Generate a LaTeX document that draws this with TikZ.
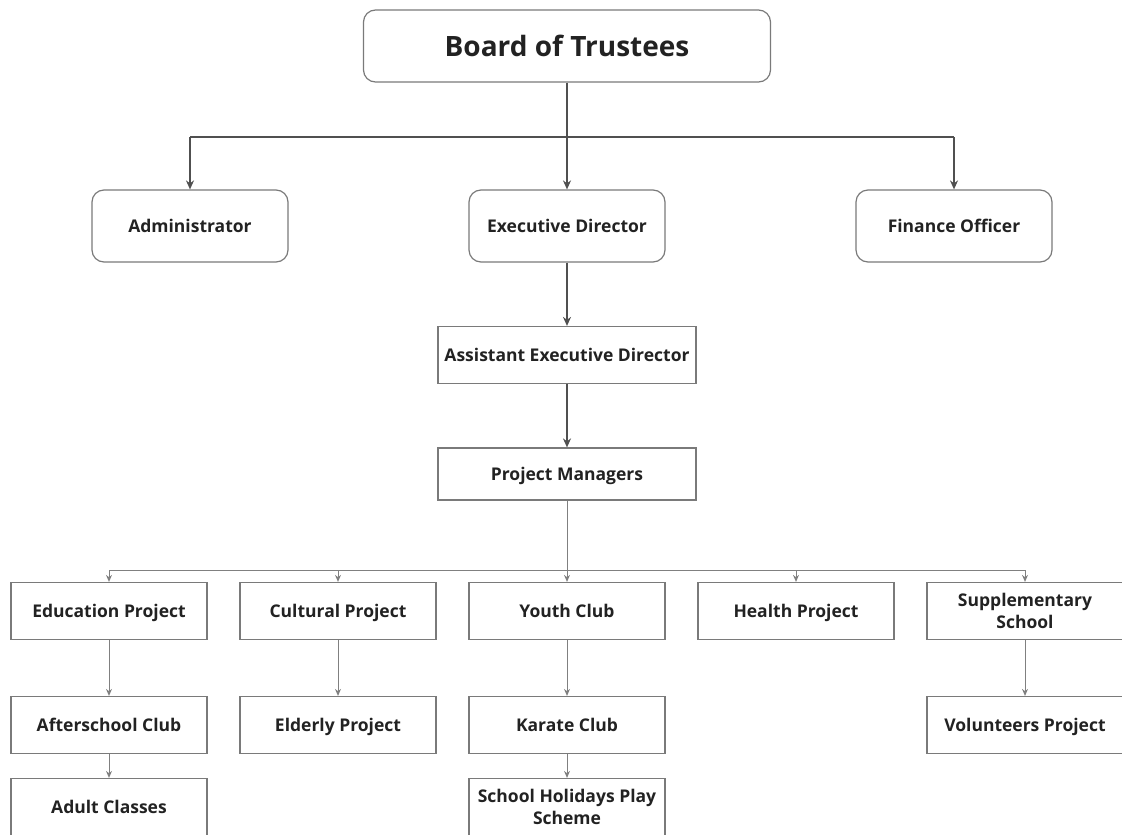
\documentclass[tikz,border=0pt]{standalone}
\usepackage{fontspec}
\setmainfont{Open Sans}
\usepackage{tikz}
\usetikzlibrary{arrows.meta,calc,positioning}

\definecolor{boxgray}{HTML}{7A7A7A}
\definecolor{linedark}{HTML}{505050}
\definecolor{linelight}{HTML}{808080}
\definecolor{textdark}{HTML}{222222}

\tikzset{
  roundbox/.style={draw=boxgray,line width=1.2pt,rounded corners=12pt,minimum width=196pt,minimum height=72pt,font=\bfseries\fontsize{17.5}{21}\selectfont,text=textdark,align=center,text height=12.6pt,text depth=0pt},
  unitbox/.style={draw=boxgray,line width=1.2pt,minimum width=196pt,minimum height=57pt,font=\bfseries\fontsize{17.5}{22}\selectfont,text=textdark,align=center,inner sep=1pt,text height=12.6pt,text depth=0pt},
  twoline/.style={text height={},text depth={}},
  mainline/.style={draw=linedark,line width=1.8pt},
  mainarrow/.style={mainline,-{Stealth[length=9pt,width=8pt]}},
  subline/.style={draw=linelight,line width=1pt},
  subarrow/.style={subline,-{Stealth[length=7pt,width=6pt]}}
}

\begin{document}
\begin{tikzpicture}[x=1pt,y=-1pt]
  \useasboundingbox (0,0) rectangle (1122,835);
  % top of the tree
  \node[roundbox,minimum width=407pt,font=\bfseries\fontsize{28}{32}\selectfont,text height=20pt] (board) at (567,46) {Board of Trustees};
  \node[roundbox] (admin) at (190,226) {Administrator};
  \node[roundbox] (exec) at (567,226) {Executive Director};
  \node[roundbox] (fin) at (954,226) {Finance Officer};
  \coordinate (topbus) at (567,137);
  % middle
  \node[unitbox,minimum width=258pt] (assist) at (567,355) {Assistant Executive Director};
  \node[unitbox,minimum width=258pt,minimum height=52pt] (pm) at (567,474) {Project Managers};
  \coordinate (lowbus) at (567,570);
  % projects
  \node[unitbox] (edu) at (109,611) {Education Project};
  \node[unitbox] (cult) at (338,611) {Cultural Project};
  \node[unitbox] (youth) at (567,611) {Youth Club};
  \node[unitbox] (health) at (796,611) {Health Project};
  \node[unitbox,twoline] (supp) at (1025,611) {Supplementary\\School};
  \node[unitbox] (after) at (109,725) {Afterschool Club};
  \node[unitbox] (elder) at (338,725) {Elderly Project};
  \node[unitbox] (karate) at (567,725) {Karate Club};
  \node[unitbox] (volun) at (1025,725) {Volunteers Project};
  \node[unitbox] (adult) at (109,807) {Adult Classes};
  \node[unitbox,twoline] (holiday) at (567,807) {School Holidays Play\\Scheme};

  % connectors
  \draw[mainline] (topbus -| admin.north) -- (topbus -| fin.north);
  \draw[mainarrow] (board.south) -- (exec.north);
  \draw[mainarrow] (topbus -| admin.north) -- (admin.north);
  \draw[mainarrow] (topbus -| fin.north) -- (fin.north);
  \draw[mainarrow] (exec.south) -- (assist.north);
  \draw[mainarrow] (assist.south) -- (pm.north);
  \draw[subline] (pm.south) -- (lowbus);
  \draw[subline] (lowbus -| edu.north) -- (lowbus -| supp.north);
  \foreach \p in {edu,cult,youth,health,supp}
    \draw[subarrow] (lowbus -| \p.north) -- (\p.north);
  \draw[subarrow] (edu) -- (after);
  \draw[subarrow] (after) -- (adult);
  \draw[subarrow] (cult) -- (elder);
  \draw[subarrow] (youth) -- (karate);
  \draw[subarrow] (karate) -- (holiday);
  \draw[subarrow] (supp) -- (volun);
\end{tikzpicture}
\end{document}
